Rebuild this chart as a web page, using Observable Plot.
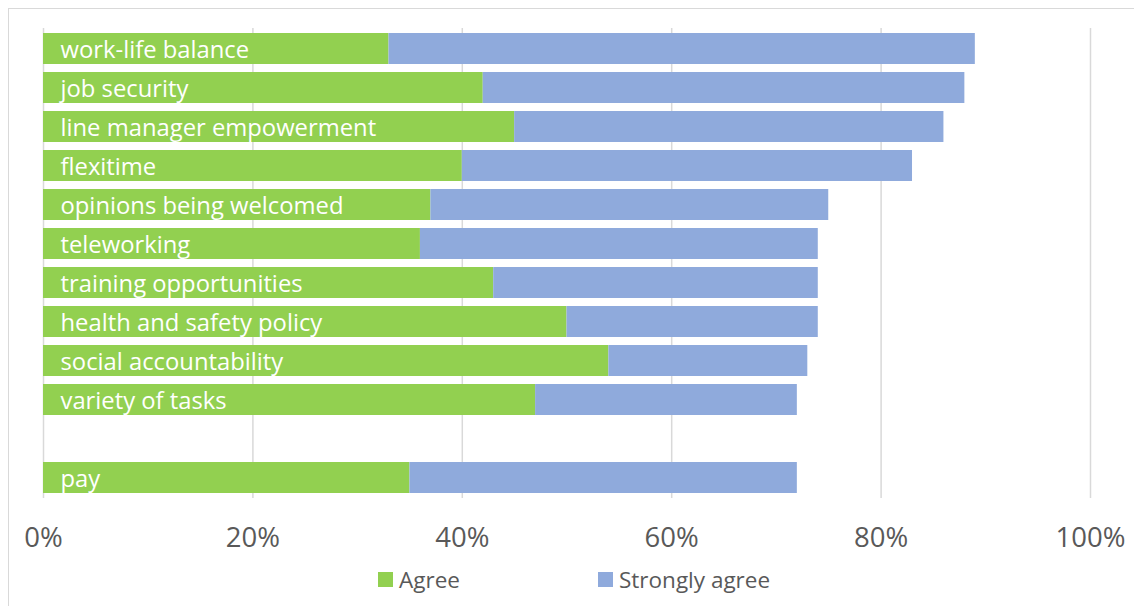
<!DOCTYPE html>
<html>
<head>
<meta charset="utf-8">
<script src="https://cdn.jsdelivr.net/npm/d3@7"></script>
<script src="https://cdn.jsdelivr.net/npm/@observablehq/plot@0.6"></script>
<style>
  html, body { margin: 0; padding: 0; background: #fff; width: 1134px; height: 606px; overflow: hidden; }
  #frame { position: absolute; left: 8px; top: 8px; width: 1200px; height: 700px; border-left: 1.5px solid #d9d9d9; border-top: 1.5px solid #d9d9d9; box-sizing: border-box; }
  #chart { position: absolute; left: 0; top: 0; }
  #legend { position: absolute; left: 0; top: 565px; width: 1134px; height: 28px; font-family: "Open Sans", sans-serif; font-size: 22.5px; color: #595959; }
  .item { position: absolute; top: 0; display: flex; align-items: center; height: 28px; }
  .sw { width: 15px; height: 15px; margin-right: 6px; }
</style>
</head>
<body>
<div id="frame"></div>
<div id="chart"></div>
<div id="legend"></div>
<script>
const categories = ["work-life balance","job security","line manager empowerment","flexitime","opinions being welcomed","teleworking","training opportunities","health and safety policy","social accountability","variety of tasks"," ","pay"];
const agree =         [33,42,45,40,37,36,43,50,54,47,null,35];
const stronglyAgree = [56,46,41,43,38,38,31,24,19,25,null,37];
const seriesNames = ["Agree","Strongly agree"];
const seriesColors = ["#92D050","#8FAADC"];
const xTicks = [0,20,40,60,80,100];

const rows = [];
categories.forEach((c,i) => {
  if (agree[i] != null) rows.push({cat: c, series: "Agree", value: agree[i]});
  if (stronglyAgree[i] != null) rows.push({cat: c, series: "Strongly agree", value: stronglyAgree[i]});
});
const labels = categories.filter((c,i) => agree[i] != null);

const chart = Plot.plot({
  width: 1134,
  height: 560,
  marginLeft: 43,
  marginRight: 44,
  marginTop: 28,
  marginBottom: 62,
  style: {fontFamily: "Open Sans, sans-serif", background: "transparent", overflow: "visible"},
  x: {domain: [0,100], ticks: xTicks, tickFormat: d => d + "%", tickSize: 0, tickPadding: 29, label: null, fontSize: 27},
  y: {domain: categories, axis: null, paddingInner: 0.2, paddingOuter: 0.1},
  color: {domain: seriesNames, range: seriesColors},
  marks: [
    Plot.gridX(xTicks, {stroke: "#d9d9d9", strokeOpacity: 1, strokeWidth: 1.5}),
    Plot.barX(rows, Plot.stackX({x: "value", y: "cat", fill: "series", order: seriesNames})),
    Plot.text(labels, {x: 0, y: d => d, text: d => d, textAnchor: "start", dx: 17, dy: 1, fill: "white", fontSize: 23.8}),
    Plot.axisX({ticks: xTicks, tickFormat: d => d + "%", tickSize: 0, tickPadding: 29, fontSize: 27.5, fill: "#595959", label: null})
  ]
});
document.getElementById("chart").appendChild(chart);

const legend = document.getElementById("legend");
const lx = [378, 598];
seriesNames.forEach((s,i) => {
  const it = document.createElement("div");
  it.className = "item";
  it.style.left = lx[i] + "px";
  const sw = document.createElement("div");
  sw.className = "sw";
  sw.style.background = seriesColors[i];
  const t = document.createElement("span");
  t.textContent = s;
  it.appendChild(sw); it.appendChild(t);
  legend.appendChild(it);
});
</script>
</body>
</html>
